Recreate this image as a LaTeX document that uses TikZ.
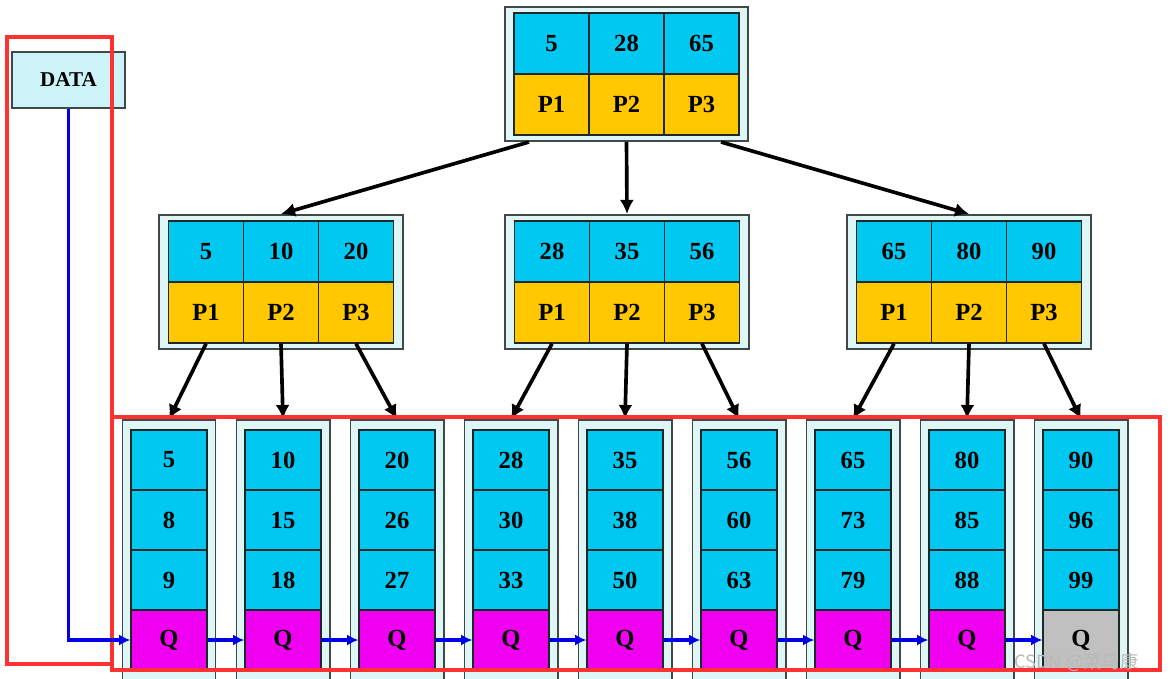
\documentclass[tikz,border=0pt]{standalone}
\usepackage{fontspec}
\setmainfont{Liberation Serif}
\newfontfamily\markfont{Noto Sans CJK SC}
\usetikzlibrary{arrows.meta}
\usetikzlibrary{calc}
\definecolor{keyblue}{RGB}{0,200,240}
\definecolor{ptryellow}{RGB}{255,200,0}
\definecolor{linkmagenta}{RGB}{240,0,240}
\definecolor{tailgray}{RGB}{192,192,192}
\definecolor{framecyan}{RGB}{222,246,246}
\definecolor{framegray}{RGB}{64,72,72}
\definecolor{cellline}{RGB}{30,40,40}
\definecolor{datacyan}{RGB}{204,244,248}
\definecolor{redbox}{RGB}{255,50,50}
\definecolor{linkblue}{RGB}{0,0,230}
\newcommand{\px}{0.025cm}
\newcommand{\cellw}{1.875cm}
\newcommand{\cellh}{1.525cm}
\newcommand{\leafw}{1.9cm}
\newcommand{\leafh}{1.5cm}
\newcommand{\cellfont}{\bfseries\fontsize{17.5}{17.5}\selectfont}
\tikzset{
  nodeframe/.style={draw=framegray, fill=framecyan, line width=1.4pt,
    minimum width=6.075cm, minimum height=3.35cm, inner sep=0pt},
  leafframe/.style={nodeframe, minimum width=2.325cm, minimum height=6.7cm},
  keycell/.style={draw=cellline, fill=keyblue, line width=1pt,
    minimum width=\cellw, minimum height=\cellh, inner sep=0pt, font=\cellfont},
  ptrcell/.style={keycell, fill=ptryellow},
  leafcell/.style={keycell, minimum width=\leafw, minimum height=\leafh},
  linkcell/.style={leafcell, fill=linkmagenta},
  tailcell/.style={leafcell, fill=tailgray},
  databox/.style={draw=framegray, fill=datacyan, line width=1.4pt,
    minimum width=2.825cm, minimum height=1.4cm, inner sep=0pt,
    font=\bfseries\fontsize{15}{15}\selectfont},
  treearrow/.style={draw=black, line width=2.6pt, -{Latex[length=10pt,width=10pt]}},
  linkarrow/.style={draw=linkblue, line width=2.6pt, -{Latex[length=8pt,width=8pt]}},
  redline/.style={draw=redbox, line width=2.2pt},
  watermark/.style={text=gray!55, font=\markfont\fontsize{13}{13}\selectfont, inner sep=0pt}
}
% internal node: name, centre x, centre y, three keys
\newcommand{\innernode}[6]{
  \node[nodeframe] (#1) at (#2,#3) {};
  \node[keycell] (#1-ka) at (#2-75,#3-30.5) {#4};
  \node[keycell] (#1-kb) at (#2,#3-30.5) {#5};
  \node[keycell] (#1-kc) at (#2+75,#3-30.5) {#6};
  \node[ptrcell] (#1-pa) at (#2-75,#3+30.5) {P1};
  \node[ptrcell] (#1-pb) at (#2,#3+30.5) {P2};
  \node[ptrcell] (#1-pc) at (#2+75,#3+30.5) {P3};
}
% leaf node: name, centre x, three keys, style of the Q cell
\newcommand{\leafnode}[6]{
  \node[leafframe] (#1) at (#2,554) {};
  \node[leafcell] (#1-ka) at (#2,460) {#3};
  \node[leafcell] (#1-kb) at (#2,520) {#4};
  \node[leafcell] (#1-kc) at (#2,580) {#5};
  \node[#6] (#1-q) at (#2,640) {Q};
}

\begin{document}
\begin{tikzpicture}[x=\px, y=-\px]
  \useasboundingbox (0,0) rectangle (1170,678);

  \innernode{top}{626.5}{74}{5}{28}{65}
  \innernode{midl}{281}{282}{5}{10}{20}
  \innernode{midm}{627}{282}{28}{35}{56}
  \innernode{midr}{969}{282}{65}{80}{90}

  \leafnode{leafa}{169}{5}{8}{9}{linkcell}
  \leafnode{leafb}{283}{10}{15}{18}{linkcell}
  \leafnode{leafc}{397}{20}{26}{27}{linkcell}
  \leafnode{leafd}{511}{28}{30}{33}{linkcell}
  \leafnode{leafe}{625}{35}{38}{50}{linkcell}
  \leafnode{leaff}{739}{56}{60}{63}{linkcell}
  \leafnode{leafg}{853}{65}{73}{79}{linkcell}
  \leafnode{leafh}{967}{80}{85}{88}{linkcell}
  \leafnode{leafi}{1081}{90}{96}{99}{tailcell}

  \node[databox] (data) at (68.5,80) {DATA};

  % root to second level
  \draw[treearrow] ([xshift=0.625cm]top.south west) -- (midl.north);
  \draw[treearrow] (top.south) -- (midm.north);
  \draw[treearrow] ([xshift=-0.7cm]top.south east) -- (midr.north);

  % second level to leaves
  \draw[treearrow] (midl-pa.south) -- (leafa.north);
  \draw[treearrow] (midl-pb.south) -- (leafb.north);
  \draw[treearrow] (midl-pc.south) -- (leafc.north);
  \draw[treearrow] (midm-pa.south) -- (leafd.north);
  \draw[treearrow] (midm-pb.south) -- (leafe.north);
  \draw[treearrow] (midm-pc.south) -- (leaff.north);
  \draw[treearrow] (midr-pa.south) -- (leafg.north);
  \draw[treearrow] (midr-pb.south) -- (leafh.north);
  \draw[treearrow] (midr-pc.south) -- (leafi.north);

  % red marks
  \draw[redline] (7,37) rectangle (112,664);
  \draw[redline] (112,417) rectangle (1160,670);

  % leaf chain
  \draw[linkarrow] (data.south) |- (leafa-q.west);
  \draw[linkarrow] (leafa-q.east) -- (leafb-q.west);
  \draw[linkarrow] (leafb-q.east) -- (leafc-q.west);
  \draw[linkarrow] (leafc-q.east) -- (leafd-q.west);
  \draw[linkarrow] (leafd-q.east) -- (leafe-q.west);
  \draw[linkarrow] (leafe-q.east) -- (leaff-q.west);
  \draw[linkarrow] (leaff-q.east) -- (leafg-q.west);
  \draw[linkarrow] (leafg-q.east) -- (leafh-q.west);
  \draw[linkarrow] (leafh-q.east) -- (leafi-q.west);

  \node[watermark, anchor=west] (mark) at (1014,662) {CSDN @菜鸟康};
\end{tikzpicture}
\end{document}
